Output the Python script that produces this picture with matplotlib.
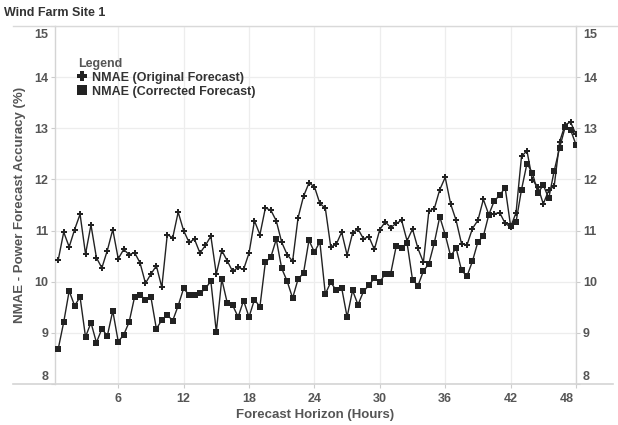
import numpy as np
import matplotlib
matplotlib.use("Agg")
import matplotlib.pyplot as plt
from matplotlib.lines import Line2D
from matplotlib.transforms import ScaledTranslation

plt.rcParams['font.family'] = ['Liberation Sans', 'DejaVu Sans']

# forecast horizon in hours (every half hour)
hours = np.arange(0.5, 48.01, 0.5)

nmae_original = [
    10.43, 10.97, 10.68, 11.02, 11.32, 10.54, 11.11, 10.47, 10.27, 10.61,
    11.02, 10.45, 10.63, 10.53, 10.57, 10.37, 9.97, 10.15, 10.31, 9.89,
    10.92, 10.86, 11.36, 11.00, 10.77, 10.83, 10.56, 10.71, 10.89, 10.15,
    10.61, 10.41, 10.20, 10.28, 10.24, 10.56, 11.19, 10.92, 11.44, 11.40,
    11.19, 10.77, 10.53, 10.40, 11.25, 11.67, 11.93, 11.86, 11.53, 11.44,
    10.68, 10.73, 10.97, 10.52, 10.95, 11.03, 10.84, 10.88, 10.63, 11.02,
    11.17, 11.06, 11.14, 11.20, 10.80, 11.03, 10.65, 10.38, 11.38, 11.43,
    11.80, 12.04, 11.52, 11.20, 10.74, 10.72, 11.04, 11.20, 11.61, 11.31,
    11.33, 11.35, 11.14, 11.07, 11.35, 12.45, 12.56, 11.99, 11.86, 11.52,
    11.79, 11.87, 12.74, 13.07, 13.12, 12.88,
]

nmae_corrected = [
    8.69, 9.21, 9.82, 9.53, 9.70, 8.92, 9.20, 8.81, 9.08, 8.94,
    9.43, 8.83, 8.96, 9.21, 9.70, 9.74, 9.65, 9.70, 9.08, 9.25,
    9.35, 9.24, 9.53, 9.87, 9.74, 9.74, 9.77, 9.87, 10.01, 9.02,
    10.05, 9.59, 9.54, 9.31, 9.63, 9.31, 9.65, 9.51, 10.38, 10.48,
    10.83, 10.26, 10.01, 9.68, 10.05, 10.17, 10.81, 10.58, 10.78, 9.76,
    9.99, 9.83, 9.88, 9.31, 9.83, 9.55, 9.81, 9.93, 10.07, 9.99,
    10.16, 10.16, 10.69, 10.66, 10.76, 10.04, 9.92, 10.21, 10.35, 10.76,
    11.27, 10.92, 10.50, 10.66, 10.22, 10.11, 10.40, 10.78, 10.89, 11.31,
    11.58, 11.69, 11.84, 11.09, 11.17, 11.80, 12.31, 12.13, 11.73, 11.89,
    11.63, 12.17, 12.62, 13.02, 12.97, 12.68,
]

x_ticks = [6, 12, 18, 24, 30, 36, 42, 48]
y_ticks = [8, 9, 10, 11, 12, 13, 14, 15]

W, H = 618, 425
fig = plt.figure(figsize=(W / 100, H / 100), dpi=100)
ax = fig.add_axes([55 / W, 1 - 384 / H, (576 - 55) / W, (384 - 26) / H])

line_col = '#222222'
ax.plot(hours, nmae_original, color=line_col, lw=1.0, marker='P',
        markersize=5, markeredgewidth=0, label='NMAE (Original Forecast)',
        zorder=3)
ax.plot(hours, nmae_corrected, color=line_col, lw=1.0, marker='s',
        markersize=5, markeredgewidth=0, label='NMAE (Corrected Forecast)',
        zorder=3)

ax.set_xlim(0.2, 48)
ax.set_ylim(8, 15)
ax.set_xticks(x_ticks)
ax.set_yticks(y_ticks)
ax.grid(True, color='#ededed', lw=0.9)
ax.set_axisbelow(True)

tick_col = '#555555'
ax.tick_params(axis='both', colors='#cccccc', labelcolor=tick_col,
               labelsize=9, length=3, width=0.8)
ax.tick_params(axis='y', right=True, labelright=True, pad=2)
for lab in ax.get_xticklabels() + ax.get_yticklabels():
    lab.set_fontweight('bold')

for side in ['top', 'bottom']:
    ax.spines[side].set_visible(False)
for side in ['left', 'right']:
    ax.spines[side].set_color('#d4d4d4')
    ax.spines[side].set_linewidth(1.0)

# keep the end labels inside the view, like the original
yt = ax.yaxis.get_major_ticks()
for lab in (yt[0].label1, yt[0].label2):
    lab.set_transform(lab.get_transform() + ScaledTranslation(0, 0.09, fig.dpi_scale_trans))
for lab in (yt[-1].label1, yt[-1].label2):
    lab.set_transform(lab.get_transform() + ScaledTranslation(0, -0.08, fig.dpi_scale_trans))
xt = ax.xaxis.get_major_ticks()
xt[-1].label1.set_transform(xt[-1].label1.get_transform()
                            + ScaledTranslation(-0.09, 0, fig.dpi_scale_trans))

# long horizontal rules across the view, Tableau style
fig.add_artist(Line2D([13 / W, 1.0], [1 - 26 / H, 1 - 26 / H],
                      color='#d9d9d9', lw=1.0))
fig.add_artist(Line2D([13 / W, 613 / W], [1 - 384 / H, 1 - 384 / H],
                      color='#d4d4d4', lw=1.2))

fig.text(4 / W, 1 - 13 / H, 'Wind Farm Site 1', fontsize=9,
         fontweight='bold', color='#333333', va='center', ha='left')
ax.set_xlabel('Forecast Horizon (Hours)', fontsize=9.5, fontweight='bold',
              color=tick_col, labelpad=3)
ax.set_ylabel('NMAE - Power Forecast Accuracy (%)', fontsize=9.5,
              fontweight='bold', color=tick_col, labelpad=6)

leg = ax.legend(loc='upper left', bbox_to_anchor=(0.035, 0.925),
                title='Legend', frameon=False, fontsize=9,
                handlelength=0.6, handletextpad=0.5, labelspacing=0.15,
                borderaxespad=0)
leg._legend_box.align = 'left'
leg.get_title().set_fontweight('bold')
leg.get_title().set_color(tick_col)
leg.get_title().set_fontsize(9)
for txt in leg.get_texts():
    txt.set_fontweight('bold')
    txt.set_color('#333333')
for h in leg.legend_handles:
    h.set_linestyle('none')
    h.set_markersize(7)

fig.savefig('out.png', dpi=100)
